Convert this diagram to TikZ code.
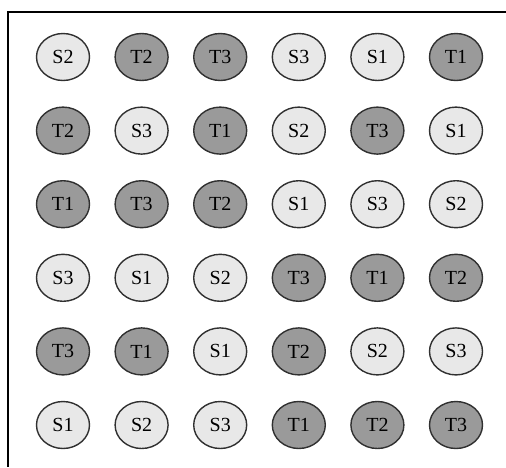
\documentclass[tikz,border=0pt]{standalone}
\usepackage{fontspec}
\setmainfont{Liberation Serif}
\usepackage{tikz}
\usetikzlibrary{shapes.geometric}
\definecolor{light}{HTML}{E8E8E8}
\definecolor{dark}{HTML}{9A9A9A}
\definecolor{rim}{HTML}{303030}

\begin{document}
\begin{tikzpicture}[x=1pt, y=-1pt,
  cell/.style={ellipse, draw=rim, line width=1.4pt,
               minimum width=53pt, minimum height=47pt, inner sep=0pt,
               font=\fontsize{20}{20}\selectfont},
  src/.style={cell, fill=light},
  tgt/.style={cell, fill=dark}
]
  \useasboundingbox (0,0) rectangle (506,467);
  \draw[line width=1.2pt] (506,12) -- (8,12) -- (8,467);

  \foreach \row [count=\j from 0] in {
      {src/S2,tgt/T2,tgt/T3,src/S3,src/S1,tgt/T1},
      {tgt/T2,src/S3,tgt/T1,src/S2,tgt/T3,src/S1},
      {tgt/T1,tgt/T3,tgt/T2,src/S1,src/S3,src/S2},
      {src/S3,src/S1,src/S2,tgt/T3,tgt/T1,tgt/T2},
      {tgt/T3,tgt/T1,src/S1,tgt/T2,src/S2,src/S3},
      {src/S1,src/S2,src/S3,tgt/T1,tgt/T2,tgt/T3}}
    \foreach \kind/\lab [count=\i from 0] in \row
      \node[\kind] (n\j\i) at ({63+78.6*\i},{57+73.6*\j}) {\lab};
\end{tikzpicture}
\end{document}
